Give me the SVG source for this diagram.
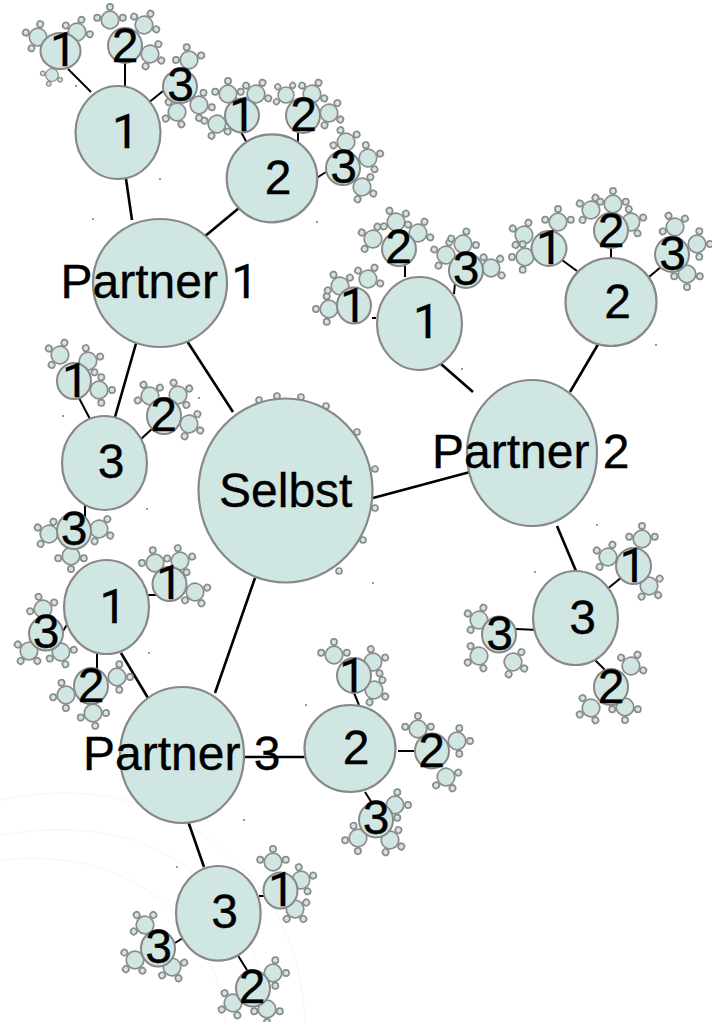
<svg xmlns="http://www.w3.org/2000/svg" width="712" height="1022" viewBox="0 0 712 1022">
<style>
.n{fill:#cfe6e3;stroke:#888;stroke-width:2.2}
.s{fill:#cfe6e3;stroke:#888;stroke-width:2}
.t{fill:#cfe6e3;stroke:#8c8c8c;stroke-width:1.7}
.d{fill:#cfe6e3;stroke:#8c8c8c;stroke-width:1.7}
text{font-family:"Liberation Sans",Arial,sans-serif;font-size:48px;fill:#000;stroke:#000;stroke-width:.35}
text.m{text-anchor:middle}
.one{font-family:Roboto,"Liberation Sans",sans-serif}
#conn line{stroke:#000;stroke-width:2}
#conn line.b{stroke-width:2.6}
#bg path{fill:none;stroke:#f8f8f8;stroke-width:1.5}
</style>
<defs>
<g id="t"><circle class="d" cx="2.3" cy="-12.8" r="3.1"/><circle class="d" cx="13" cy="0" r="3.1"/><circle class="d" cx="2.3" cy="12.8" r="3.1"/><circle class="t" r="8.8"/></g>
</defs>
<g id="bg">
<path d="M0 800Q120 775 210 840T305 1022"/>
<path d="M0 835Q120 815 190 870T270 1022"/>
<path d="M0 860Q100 850 160 900T225 1022"/>
</g>
<path id="specks" fill="#999" d="M75 85h2v2h-2zM159 178h2v2h-2zM92 218h2v2h-2zM316 221h2v2h-2zM461 368h2v2h-2zM655 344h2v2h-2zM198 397h2v2h-2zM372 582h2v2h-2zM148 652h2v2h-2zM243 819h2v2h-2zM176 866h2v2h-2zM62 415h2v2h-2zM146 508h2v2h-2zM534 571h2v2h-2zM596 524h2v2h-2zM305 704h2v2h-2z"/>
<g id="conn">
<line x1="68" y1="69" x2="91" y2="92"/><line x1="125" y1="63" x2="125" y2="87"/><line x1="147" y1="104" x2="163" y2="91"/>
<line class="b" x1="126" y1="179" x2="132" y2="220"/><line class="b" x1="239" y1="208" x2="204" y2="237"/>
<line x1="241" y1="132" x2="248" y2="145"/><line x1="298" y1="133" x2="298" y2="144"/><line x1="315" y1="179" x2="326" y2="172"/>
<line class="b" x1="187" y1="341" x2="233" y2="412"/><line class="b" x1="137" y1="340" x2="115" y2="417"/>
<line x1="79" y1="398" x2="91" y2="421"/><line x1="141" y1="439" x2="153" y2="428"/><line x1="85" y1="503" x2="85" y2="519"/>
<line x1="148" y1="595" x2="158" y2="595"/><line x1="63" y1="631" x2="68" y2="623"/><line x1="97" y1="653" x2="97" y2="669"/>
<line class="b" x1="121" y1="653" x2="148" y2="698"/><line class="b" x1="255" y1="578" x2="215" y2="693"/><line class="b" x1="373" y1="498" x2="470" y2="472"/>
<line class="b" x1="441" y1="364" x2="473" y2="392"/><line class="b" x1="600" y1="341" x2="570" y2="392"/>
<line x1="372" y1="318" x2="376" y2="318"/><line x1="405" y1="266" x2="405" y2="277"/><line x1="455" y1="283" x2="454" y2="294"/>
<line x1="562" y1="260" x2="577" y2="271"/><line x1="611" y1="248" x2="611" y2="258"/><line x1="649" y1="277" x2="662" y2="266"/>
<line class="b" x1="557" y1="526" x2="576" y2="571"/><line x1="606" y1="590" x2="622" y2="577"/><line x1="516" y1="629" x2="538" y2="630"/><line x1="595" y1="660" x2="607" y2="672"/>
<line class="b" x1="244" y1="757" x2="305" y2="757"/><line x1="354" y1="693" x2="359" y2="705"/><line x1="398" y1="751" x2="415" y2="751"/><line x1="365" y1="792" x2="372" y2="803"/>
<line class="b" x1="188" y1="821" x2="204" y2="867"/><line x1="259" y1="896" x2="270" y2="896"/><line x1="175" y1="943" x2="186" y2="936"/><line x1="237" y1="954" x2="247" y2="970"/>
</g>
<g id="p1-1-1"><use href="#t" transform="translate(38 37) rotate(200)"/><use href="#t" transform="translate(77 32) rotate(-70)"/><use href="#t" transform="translate(52 75) rotate(110) scale(.72)"/><ellipse class="s" cx="60.5" cy="51" rx="20" ry="18"/><text class="one" x="50" y="66">1</text></g>
<g id="p1-1-2"><use href="#t" transform="translate(110 20) rotate(-90)"/><use href="#t" transform="translate(144 25) rotate(-60)"/><use href="#t" transform="translate(150 54) rotate(30)"/><ellipse class="s" cx="125" cy="45.5" rx="17" ry="17.5"/><text class="m" x="125" y="62">2</text></g>
<g id="p1-1-3"><use href="#t" transform="translate(189 60) rotate(-100)"/><use href="#t" transform="translate(199 105) rotate(10)"/><use href="#t" transform="translate(177 112) rotate(150)"/><ellipse class="s" cx="180" cy="86.5" rx="17" ry="16.5"/><text class="m" x="180.5" y="101">3</text></g>
<g id="p1-1"><ellipse class="n" cx="118" cy="132.5" rx="42.5" ry="46.5"/><text class="one" x="112" y="148">1</text></g>
<g id="p1-2-1"><use href="#t" transform="translate(228 94) rotate(-90)"/><use href="#t" transform="translate(256 94) rotate(-60)"/><use href="#t" transform="translate(217 124) rotate(115)"/><ellipse class="s" cx="242" cy="115.5" rx="17" ry="17"/><text class="one" x="229" y="130.5">1</text></g>
<g id="p1-2-2"><use href="#t" transform="translate(286 95) rotate(-135) scale(.9)"/><use href="#t" transform="translate(312 94) rotate(-60)"/><use href="#t" transform="translate(329 113) rotate(30)"/><ellipse class="s" cx="303" cy="115.5" rx="17" ry="17.5"/><text class="m" x="303.5" y="131">2</text></g>
<g id="p1-2-3"><use href="#t" transform="translate(346 142) rotate(-115)"/><use href="#t" transform="translate(368 158) rotate(-20)"/><use href="#t" transform="translate(362 187) rotate(30)"/><ellipse class="s" cx="343" cy="168" rx="17" ry="17"/><text class="m" x="343.5" y="183">3</text></g>
<g id="p1-2"><ellipse class="n" cx="272" cy="178.3" rx="45.3" ry="44"/><text class="m" x="278" y="194">2</text></g>
<g id="p1-3-1"><use href="#t" transform="translate(60 355) rotate(-150)"/><use href="#t" transform="translate(88 361) rotate(-20)"/><use href="#t" transform="translate(99 390) rotate(0)"/><ellipse class="s" cx="74" cy="381" rx="17" ry="18"/><text class="one" x="62" y="397">1</text></g>
<g id="p1-3-2"><use href="#t" transform="translate(150 396) rotate(-120)"/><use href="#t" transform="translate(178 395) rotate(-30)"/><use href="#t" transform="translate(189 424) rotate(30)"/><ellipse class="s" cx="164" cy="416" rx="17" ry="18"/><text class="m" x="163.5" y="431">2</text></g>
<g id="p1-3-3"><use href="#t" transform="translate(49 534) rotate(-150)"/><use href="#t" transform="translate(99 529) rotate(30)"/><use href="#t" transform="translate(71 556) rotate(90)"/><ellipse class="s" cx="74" cy="531" rx="17" ry="18"/><text class="m" x="74" y="545">3</text></g>
<g id="p1-3"><ellipse class="n" cx="104.5" cy="463" rx="42.5" ry="47"/><text class="m" x="111" y="478">3</text></g>
<g id="p2-1-1"><use href="#t" transform="translate(329 309) rotate(180)"/><use href="#t" transform="translate(340 286) rotate(-120)"/><use href="#t" transform="translate(368 279) rotate(-60)"/><ellipse class="s" cx="354" cy="305.5" rx="17" ry="18"/><text class="one" x="340" y="322">1</text></g>
<g id="p2-1-2"><use href="#t" transform="translate(373 239) rotate(-150)"/><use href="#t" transform="translate(396 222) rotate(-120)"/><use href="#t" transform="translate(418 233) rotate(-60)"/><ellipse class="s" cx="399" cy="249" rx="17" ry="17"/><text class="m" x="398.5" y="263">2</text></g>
<g id="p2-1-3"><use href="#t" transform="translate(446 255) rotate(-155)"/><use href="#t" transform="translate(463 244) rotate(-75)"/><use href="#t" transform="translate(491 268) rotate(-45)"/><ellipse class="s" cx="466" cy="270.5" rx="17" ry="17.5"/><text class="m" x="466" y="285">3</text></g>
<g id="p2-1"><ellipse class="n" cx="419.5" cy="323.5" rx="42.5" ry="46.5"/><text class="one" x="413" y="338">1</text></g>
<g id="p2-2-1"><use href="#t" transform="translate(524 235) rotate(-150)"/><use href="#t" transform="translate(525 257) rotate(180)"/><use href="#t" transform="translate(558 222) rotate(-90)"/><ellipse class="s" cx="549" cy="248.5" rx="17.5" ry="17.5"/><text class="one" x="536" y="264">1</text></g>
<g id="p2-2-2"><use href="#t" transform="translate(591 210) rotate(-150)"/><use href="#t" transform="translate(613 204) rotate(-90)"/><use href="#t" transform="translate(631 222) rotate(-20)"/><ellipse class="s" cx="611" cy="230.5" rx="17" ry="17.5"/><text class="m" x="611" y="247">2</text></g>
<g id="p2-2-3"><use href="#t" transform="translate(675 227) rotate(-120)"/><use href="#t" transform="translate(697 244) rotate(0)"/><use href="#t" transform="translate(687 274) rotate(90)"/><ellipse class="s" cx="672" cy="254.5" rx="17" ry="17.5"/><text class="m" x="672.5" y="270">3</text></g>
<g id="p2-2"><ellipse class="n" cx="611" cy="302" rx="45.5" ry="44"/><text class="m" x="617.5" y="317.5">2</text></g>
<g id="p2-3-1"><use href="#t" transform="translate(608 557) rotate(-150)"/><use href="#t" transform="translate(642 539) rotate(-90)"/><use href="#t" transform="translate(649 586) rotate(45)"/><ellipse class="s" cx="633.5" cy="566" rx="17.5" ry="18"/><text class="one" x="619.5" y="581.5">1</text></g>
<g id="p2-3-2"><use href="#t" transform="translate(631 666) rotate(-60)"/><use href="#t" transform="translate(591 708) rotate(150)"/><use href="#t" transform="translate(625 707) rotate(90)"/><ellipse class="s" cx="611" cy="687" rx="17" ry="18"/><text class="m" x="611" y="702.5">2</text></g>
<g id="p2-3-3"><use href="#t" transform="translate(479 620) rotate(-150)"/><use href="#t" transform="translate(479 656) rotate(150)"/><use href="#t" transform="translate(513 662) rotate(30)"/><ellipse class="s" cx="499" cy="634.5" rx="17" ry="18"/><text class="m" x="499.5" y="650">3</text></g>
<g id="p2-3"><ellipse class="n" cx="575.5" cy="618" rx="42.5" ry="47"/><text class="m" x="582.5" y="634">3</text></g>
<g id="p3-1-1"><use href="#t" transform="translate(155 563) rotate(-100)"/><use href="#t" transform="translate(180 561) rotate(-20)"/><use href="#t" transform="translate(195 592) rotate(60)"/><ellipse class="s" cx="169.5" cy="584" rx="17" ry="17"/><text class="one" x="156" y="599">1</text></g>
<g id="p3-1-2"><use href="#t" transform="translate(117 677) rotate(0)"/><use href="#t" transform="translate(66 695) rotate(170)"/><use href="#t" transform="translate(93 713) rotate(80)"/><ellipse class="s" cx="91" cy="686" rx="17" ry="18"/><text class="m" x="91" y="701.5">2</text></g>
<g id="p3-1-3"><use href="#t" transform="translate(43 609) rotate(-110)"/><use href="#t" transform="translate(29 651) rotate(130)"/><use href="#t" transform="translate(61 652) rotate(70)"/><ellipse class="s" cx="46" cy="633.5" rx="17" ry="17"/><text class="m" x="46" y="648">3</text></g>
<g id="p3-1"><ellipse class="n" cx="106.5" cy="607" rx="42.5" ry="47"/><text class="one" x="99.500" y="622.5">1</text></g>
<g id="p3-2-1"><use href="#t" transform="translate(334 655) rotate(-90)"/><use href="#t" transform="translate(373 662) rotate(-20)"/><use href="#t" transform="translate(374 690) rotate(30)"/><ellipse class="s" cx="354" cy="675.5" rx="17" ry="17.5"/><text class="one" x="339" y="691.5">1</text></g>
<g id="p3-2-2"><use href="#t" transform="translate(418 729) rotate(-90)"/><use href="#t" transform="translate(457 741) rotate(0)"/><use href="#t" transform="translate(446 777) rotate(60)"/><ellipse class="s" cx="432" cy="751" rx="17" ry="17.5"/><text class="m" x="431.5" y="766.5">2</text></g>
<g id="p3-2-3"><use href="#t" transform="translate(395 805) rotate(0)"/><use href="#t" transform="translate(358 838) rotate(170)"/><use href="#t" transform="translate(390 840) rotate(30)"/><ellipse class="s" cx="376" cy="820" rx="17" ry="17.5"/><text class="m" x="376" y="834">3</text></g>
<g id="p3-2"><ellipse class="n" cx="350" cy="748.5" rx="45.5" ry="43.5"/><text class="m" x="356" y="764">2</text></g>
<g id="p3-3-1"><use href="#t" transform="translate(273 862) rotate(-90)"/><use href="#t" transform="translate(301 880) rotate(-20)"/><use href="#t" transform="translate(295 909) rotate(50)"/><ellipse class="s" cx="280.5" cy="890.5" rx="17" ry="18"/><text class="one" x="268" y="906">1</text></g>
<g id="p3-3-2"><use href="#t" transform="translate(273 973) rotate(0)"/><use href="#t" transform="translate(233 1003) rotate(150)"/><use href="#t" transform="translate(267 1009) rotate(90)"/><ellipse class="s" cx="253" cy="988.5" rx="17" ry="18"/><text class="m" x="252" y="1003">2</text></g>
<g id="p3-3-3"><use href="#t" transform="translate(145 925) rotate(-130)"/><use href="#t" transform="translate(135 960) rotate(135)"/><use href="#t" transform="translate(172 967) rotate(60)"/><ellipse class="s" cx="158" cy="948.5" rx="17" ry="18"/><text class="m" x="158.5" y="963">3</text></g>
<g id="p3-3"><ellipse class="n" cx="218.3" cy="913.3" rx="42.3" ry="47.3"/><text class="m" x="224.5" y="928">3</text></g>
<g id="selbst">
<circle class="d" cx="259" cy="400" r="3"/><circle class="d" cx="277" cy="396" r="3"/><circle class="d" cx="301" cy="397" r="3"/><circle class="d" cx="326" cy="406" r="3"/><circle class="d" cx="357" cy="432" r="3"/><circle class="d" cx="375" cy="469" r="3"/><circle class="d" cx="375" cy="508" r="3"/><circle class="d" cx="363" cy="540" r="3"/><circle class="d" cx="339" cy="571" r="3"/>
<ellipse class="n" cx="285.5" cy="490.5" rx="87" ry="92"/><text x="219" y="507">Selbst</text></g>
<g id="p1"><ellipse class="n" cx="160" cy="283" rx="67" ry="64"/><text x="60.5" y="298">Partner <tspan class="one">1</tspan></text></g>
<g id="p2"><ellipse class="n" cx="532" cy="453" rx="65" ry="73"/><text x="432" y="468">Partner 2</text></g>
<g id="p3"><ellipse class="n" cx="182" cy="755" rx="62" ry="68"/><text x="83" y="770">Partner 3</text></g>
</svg>
